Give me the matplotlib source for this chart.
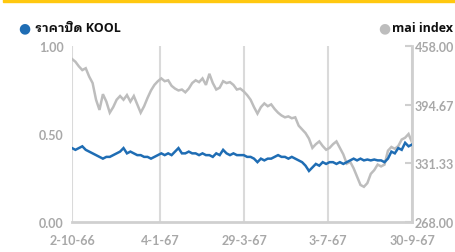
import matplotlib
matplotlib.use("Agg")
import matplotlib.pyplot as plt
from matplotlib.patches import Rectangle

# KOOL closing price (left axis) and mai index (right axis)
kool_close = [
    0.42, 0.41, 0.42, 0.43, 0.41, 0.40, 0.39, 0.38, 0.37, 0.36,
    0.37, 0.37, 0.38, 0.39, 0.40, 0.42, 0.39, 0.40, 0.39, 0.38,
    0.38, 0.37, 0.37, 0.36, 0.37, 0.38, 0.39, 0.38, 0.39, 0.38,
    0.40, 0.42, 0.39, 0.39, 0.40, 0.39, 0.39, 0.38, 0.39, 0.38,
    0.38, 0.37, 0.39, 0.38, 0.41, 0.39, 0.38, 0.39, 0.38, 0.38,
    0.38, 0.37, 0.37, 0.36, 0.34, 0.36, 0.35, 0.36, 0.36, 0.37,
    0.38, 0.37, 0.37, 0.36, 0.37, 0.36, 0.35, 0.34, 0.32, 0.29,
    0.31, 0.33, 0.32, 0.34, 0.33, 0.34, 0.34, 0.33, 0.34, 0.33,
    0.34, 0.35, 0.36, 0.35, 0.36, 0.35, 0.355, 0.35, 0.355, 0.35,
    0.35, 0.34, 0.36, 0.40, 0.39, 0.42, 0.41, 0.45, 0.43, 0.44,
]
mai_index = [
    444, 441, 436, 432, 434, 425, 418, 400, 389, 406,
    398, 386, 392, 400, 404, 400, 405, 398, 404, 395,
    386, 393, 402, 410, 416, 420, 423, 420, 421, 415,
    412, 410, 411, 408, 412, 418, 421, 419, 423, 416,
    428, 418, 411, 413, 420, 418, 419, 416, 411, 412,
    409, 405, 400, 392, 385, 392, 396, 393, 395, 390,
    386, 383, 381, 382, 380, 381, 372, 368, 364, 358,
    348, 352, 355, 350, 346, 348, 352, 355, 348, 341,
    331, 333, 326, 317, 308, 306, 310, 320, 324, 330,
    328, 330, 345, 349, 347, 350, 357, 359, 363, 354,
]
date_labels = ["2-10-66", "4-1-67", "29-3-67", "3-7-67", "30-9-67"]
date_pos = [0, 25.6, 50.1, 74.5, 99]
left_ticks = [0.0, 0.5, 1.0]
right_ticks = [268.00, 331.33, 394.67, 458.00]

BLUE = "#1f6db4"
GRAY = "#bdbdbd"
TICK = "#a8a8a8"
GRID = "#dadada"

fig = plt.figure(figsize=(4.56, 2.53), dpi=100)
fig.patches.append(Rectangle((3 / 456, 250 / 253), 1, 3 / 253, transform=fig.transFigure,
                             color="#ffc80f", zorder=0))

ax2 = fig.add_axes([72 / 456, 30 / 253, 340 / 456, 176 / 253])  # mai index, drawn below
ax = ax2.twinx()
ax.yaxis.tick_left()
ax2.yaxis.tick_right()
ax.set_zorder(ax2.get_zorder() + 1)
ax.patch.set_visible(False)

x = list(range(len(kool_close)))
ax2.plot(x, mai_index, color=GRAY, lw=1.8, solid_joinstyle="miter")
ax.plot(x, kool_close, color=BLUE, lw=1.8, solid_joinstyle="miter")

ax.set_ylim(0, 1)
ax2.set_ylim(268, 458)
ax2.set_xlim(0, 99)

ax.set_yticks(left_ticks, [f"{v:.2f}" for v in left_ticks])
ax2.set_yticks(right_ticks, [f"{v:.2f}" for v in right_ticks])
ax2.set_xticks(date_pos, date_labels)
ax2.xaxis.grid(True, color=GRID, lw=1.5)

for a in (ax, ax2):
    for s in a.spines.values():
        s.set_visible(False)
ax2.spines["bottom"].set_visible(True)
ax2.spines["bottom"].set_color("#d0d0d0")
ax2.spines["bottom"].set_linewidth(2)
ax2.spines["right"].set_visible(True)
ax2.spines["right"].set_color("#cfcfcf")
ax2.spines["right"].set_linewidth(2)

ax.tick_params(axis="y", length=0, pad=6, labelcolor=TICK)
ax2.tick_params(axis="y", direction="in", length=5, width=1.5, color="#cfcfcf", pad=2, labelcolor=TICK)
ax2.tick_params(axis="x", length=0, pad=9, labelcolor=TICK)
for lbl in ax.get_yticklabels() + ax2.get_yticklabels() + ax2.get_xticklabels():
    lbl.set_fontfamily(["Lato", "DejaVu Sans"])
    lbl.set_fontweight("bold")
    lbl.set_fontsize(9)

# legend entries above the plot
legend_font = ["Open Sans", "IBM Plex Sans Thai Looped", "DejaVu Sans"]
ly = 1 - 28 / 253
fig.text(24 / 456, ly, "●", color=BLUE, fontsize=10, va="center", ha="center")
fig.text(35 / 456, ly, "ราคาปิด KOOL", color="#111111", fontsize=9, weight="bold",
         family=legend_font, va="center", ha="left")
fig.text(384 / 456, ly, "●", color=GRAY, fontsize=10, va="center", ha="center")
fig.text(453 / 456, ly, "mai index", color="#111111", fontsize=9, weight="bold",
         family=legend_font, va="center", ha="right")

fig.savefig("out.png", dpi=100)
plt.close(fig)
